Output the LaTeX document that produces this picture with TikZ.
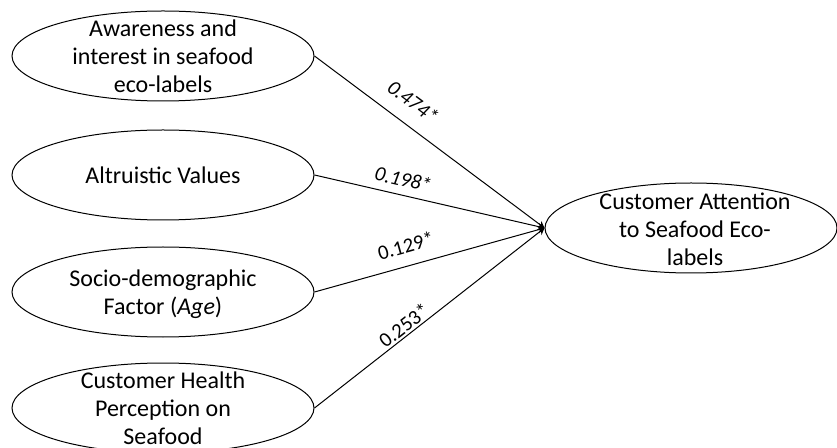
\documentclass[tikz,border=0pt]{standalone}
\usepackage{fontspec}
\setmainfont{Carlito}
\usetikzlibrary{shapes.geometric,arrows.meta}

\begin{document}
\begin{tikzpicture}
[x=0.75pt, y=-0.75pt, line width=0.75pt,
latent/.style={ellipse, draw, inner sep=0pt, minimum width=226.5pt, minimum height=67.5pt},
target/.style={ellipse, draw, inner sep=0pt, minimum width=219pt, minimum height=67.5pt},
lbl/.style={align=center, inner sep=0pt, font=\fontsize{18}{21}\selectfont},
coef/.style={font=\fontsize{15.5}{18}\selectfont, inner sep=0pt, sloped},
effect/.style={-{Stealth[length=5pt,width=5.5pt]}}]

\useasboundingbox (0,0) rectangle (837,448);

% constructs
\node[latent] (aware) at (163,56) {};
\node[latent] (altru) at (163,175) {};
\node[latent] (socio) at (163,292) {};
\node[latent] (health) at (163,408) {};
\node[target] (attn) at (691,228) {};

\node[lbl] (awaretxt) at (aware) {Awareness and\\interest in seafood\\eco-labels};
\node[lbl] (altrutxt) at (altru) {Altruistic Values};
\node[lbl] (sociotxt) at ([yshift=-1.5pt]socio) {Socio-demographic\\Factor (\textit{Age})};
\node[lbl] (healthtxt) at ([yshift=-0.5pt]health) {Customer Health\\Perception on\\Seafood};
\node[lbl] (attntxt) at ([xshift=3pt,yshift=-1pt]attn) {Customer Attention\\to Seafood Eco-\\labels};

% paths
\draw[effect] (aware.east) -- node[coef, pos=0.37, above=11pt] (c1) {\textit{0.474*}} (attn.west);
\draw[effect] (altru.east) -- node[coef, pos=0.37, above=6pt] (c2) {\textit{0.198*}} (attn.west);
\draw[effect] (socio.east) -- node[coef, pos=0.42, above=9pt] (c3) {0.129*} (attn.west);
\draw[effect] (health.east) -- node[coef, pos=0.415, above=1.5pt] (c4) {0.253*} (attn.west);
\end{tikzpicture}
\end{document}
